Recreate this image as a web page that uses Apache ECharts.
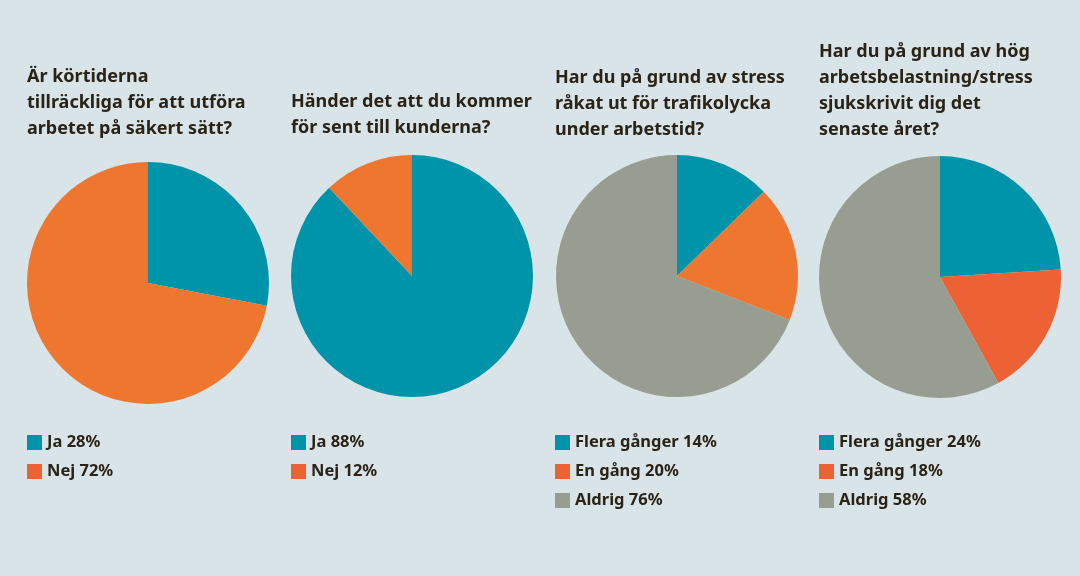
<!DOCTYPE html>
<html>
<head>
<meta charset="utf-8">
<script src="https://cdn.jsdelivr.net/npm/echarts@6/dist/echarts.min.js"></script>
<style>
html,body{margin:0;padding:0;background:#d9e4e8;}
#main{width:1080px;height:576px;}
</style>
</head>
<body>
<div id="main"></div>
<script>
// frågor
var titles = [
	'Är körtiderna\ntillräckliga för att utföra\narbetet på säkert sätt?',
	'Händer det att du kommer\nför sent till kunderna?',
	'Har du på grund av stress\nråkat ut för trafikolycka\nunder arbetstid?',
	'Har du på grund av hög\narbetsbelastning/stress\nsjukskrivit dig det\nsenaste året?'
];
// svar
var names1 = ['Ja', 'Nej'];
var values1 = [28, 72];
var names2 = ['Ja', 'Nej'];
var values2 = [88, 12];
var names3 = ['Flera gånger', 'En gång', 'Aldrig'];
var values3 = [14, 20, 76];
var names4 = ['Flera gånger', 'En gång', 'Aldrig'];
var values4 = [24, 18, 58];

var font = '"Noto Sans", sans-serif';
var ink = '#2a2316';
var teal = '#0094ab', orange = '#ef762e', red = '#ec6234', grey = '#979d91';

var pies = [
	{names: names1, values: values1, colors: [teal, orange], legendColors: [teal, red], center: [148, 283], left: 27, titleTop: 64},
	{names: names2, values: values2, colors: [teal, orange], legendColors: [teal, red], center: [412, 276], left: 291, titleTop: 89},
	{names: names3, values: values3, colors: [teal, orange, grey], legendColors: [teal, red, grey], center: [677, 276], left: 555, titleTop: 65},
	{names: names4, values: values4, colors: [teal, red, grey], legendColors: [teal, red, grey], center: [940, 277], left: 819, titleTop: 39}
];

var myChart = echarts.init(document.getElementById('main'));

var title = [], legend = [], series = [];
pies.forEach(function(p, i){
	title.push({
		text: titles[i],
		left: p.left,
		top: p.titleTop,
		padding: 0,
		textStyle: {fontFamily: font, fontSize: 18, fontWeight: 'bold', color: ink, lineHeight: 26}
	});
	legend.push({
		orient: 'vertical',
		left: p.left,
		top: 434,
		padding: 0,
		icon: 'rect',
		itemWidth: 15,
		itemHeight: 15,
		itemGap: 12,
		selectedMode: false,
		data: p.names.map(function(n, k){
			return {name: n, itemStyle: {color: p.legendColors[k]}};
		}),
		formatter: function(n){
			return n + ' ' + p.values[p.names.indexOf(n)] + '%';
		},
		textStyle: {fontFamily: font, fontSize: 16.5, fontWeight: 'bold', color: ink, lineHeight: 17}
	});
	series.push({
		type: 'pie',
		center: p.center,
		radius: 121,
		startAngle: 90,
		clockwise: true,
		silent: true,
		animation: false,
		label: {show: false},
		labelLine: {show: false},
		data: p.names.map(function(n, k){
			return {name: n, value: p.values[k], itemStyle: {color: p.colors[k]}};
		})
	});
});

var option = {
	backgroundColor: '#d9e4e8',
	title: title,
	legend: legend,
	series: series
};

myChart.setOption(option);
</script>
</body>
</html>
